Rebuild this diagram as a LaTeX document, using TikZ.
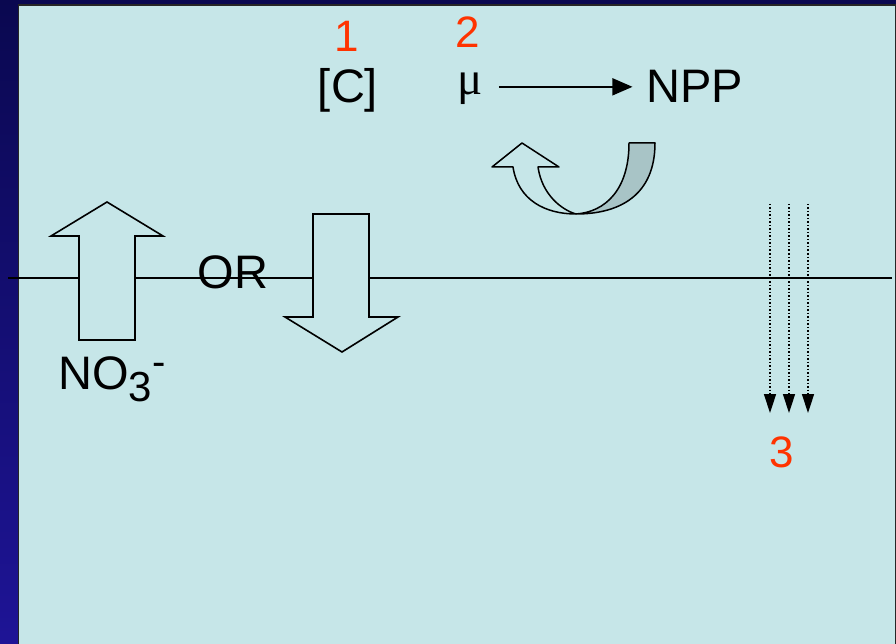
\documentclass[tikz,border=0pt]{standalone}
\usepackage{fontspec}
\setmainfont{Liberation Sans}
\newfontfamily\greekserif{Liberation Serif}
\usepackage{tikz}
\usetikzlibrary{arrows.meta,positioning,calc}
\definecolor{panelbg}{RGB}{198,230,232}
\definecolor{backface}{RGB}{168,196,198}
\definecolor{numred}{RGB}{255,51,0}
\definecolor{slidetop}{RGB}{10,8,80}
\definecolor{slidebot}{RGB}{30,20,150}

\begin{document}
\begin{tikzpicture}[
      x=1pt, y=-1pt,
      txt/.style={inner sep=0pt, anchor=base, font=\fontsize{47}{56}\selectfont},
      num/.style={inner sep=0pt, anchor=base, text=numred,
                  font=\fontsize{44}{52}\selectfont},
      blockarrow/.style={draw=black, fill=panelbg, line width=1.6pt},
      arrow/.style={-{Triangle[length=20pt,width=17pt]}, line width=1.6pt},
      dotarrow/.style={-{Triangle[length=19pt,width=12pt]}, dotted, line width=1.5pt},
      twist/.style={draw=black, line width=1.5pt, line join=round}
    ]
      \useasboundingbox (0,0) rectangle (896,644);
      %% Slide background and panel
      \shade[top color=slidetop, bottom color=slidebot] (0,0) rectangle (896,644);
      \draw[fill=panelbg, draw=black!85, line width=1.2pt] (18.5,5) rectangle (895.5,660);
      %% Surface line
      \coordinate (lineL) at (8,278);
      \coordinate (lineR) at (892,278);
      \draw[line width=1.6pt] (lineL) -- (lineR);
      %% Top row
      \node[num] (num1) at (347,52) {1};
      \node[num] (num2) at (468,48) {2};
      \node[txt] (conc) at (348,103) {[C]};
      \node[txt, font=\fontsize{47}{56}\greekserif] (mu) at (470,95) {μ};
      \node[txt] (npp) at (695,103) {NPP};
      \draw[arrow, shorten <=16pt, shorten >=14pt] (mu.east |- npp.center) -- (npp.west);
      %% Twisted curved arrow
      \path[twist, fill=backface] (629,143) -- (655,143)
            .. controls (655,195) and (620,214) .. (576,214)
            .. controls (605,212) and (629,190) .. (629,143) -- cycle;
      \path[twist, fill=panelbg] (576,214)
            .. controls (562,210) and (542,195) .. (538,167)
            -- (559,167) -- (522,143) -- (492,167) -- (513,167)
            .. controls (518,200) and (545,214) .. (576,214) -- cycle;
      %% Up / down block arrows
      \node[txt] (orlbl) at (233,288) {OR};
      \path[blockarrow] (79,340) -- (79,236) -- (51,236) -- (107,202)
            -- (163,236) -- (135,236) -- (135,340) -- cycle;
      \path[blockarrow] (313,214) -- (369,214) -- (369,317) -- (398,317)
            -- (342,352) -- (285,317) -- (313,317) -- cycle;
      \node[txt, anchor=base west] (nitrate) at (58,389)
            {NO\raisebox{-12pt}{\fontsize{42}{42}\selectfont 3}\raisebox{14pt}{\fontsize{40}{40}\selectfont -}};
      %% Sinking flux
      \foreach \i/\x in {1/770, 2/789, 3/808}{
        \coordinate (drop\i) at (\x,204);
        \coordinate (dropend\i) at (\x,413);
        \draw[dotarrow] (drop\i) -- (dropend\i);
      }
      \node[num] (num3) at (782,467) {3};
    \end{tikzpicture}
\end{document}
